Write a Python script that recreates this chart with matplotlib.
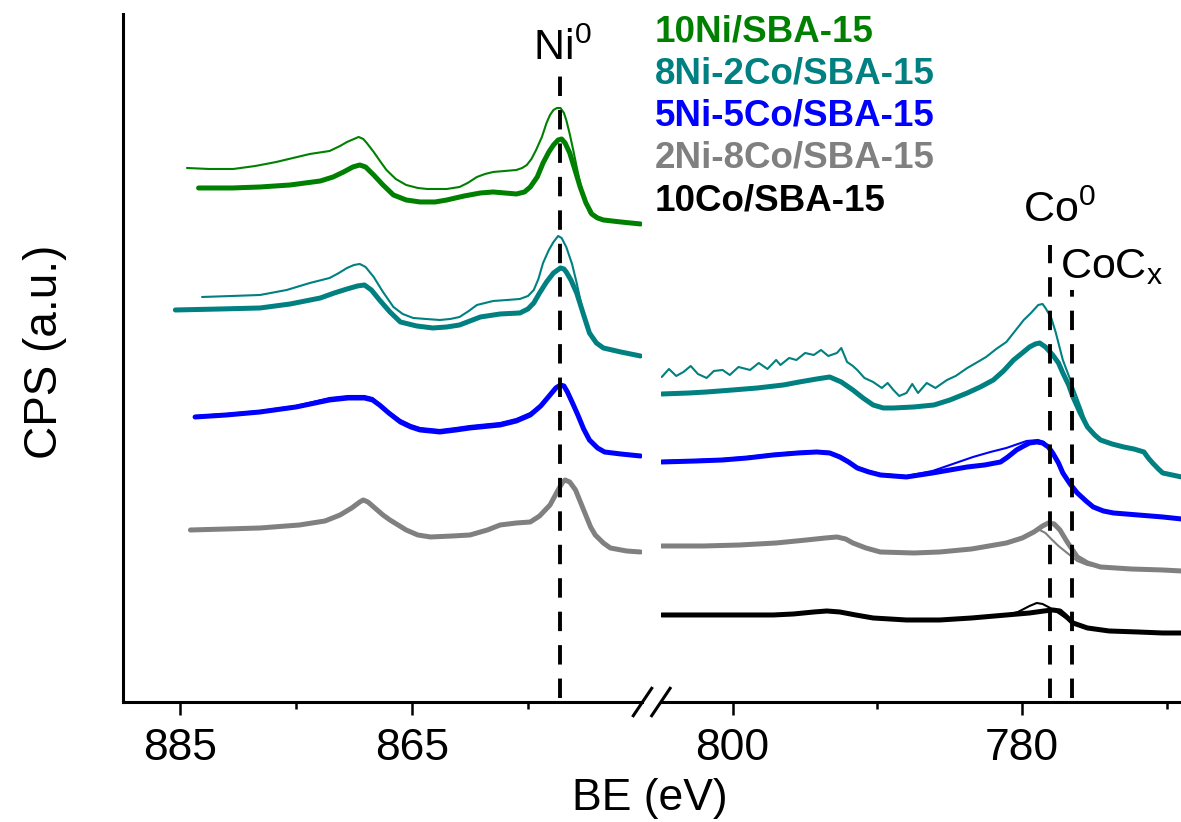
import numpy as np
import matplotlib.pyplot as plt
from matplotlib.lines import Line2D

plt.rcParams["font.family"] = "Liberation Sans"
plt.rcParams["mathtext.fontset"] = "custom"
plt.rcParams["mathtext.rm"] = "Liberation Sans"
plt.rcParams["mathtext.it"] = "Liberation Sans:italic"

# ---- Ni 2p region: (BE eV, CPS offset a.u.) ----
ni_10ni_a = [(884.4, 53.4), (882.5, 53.3), (880.4, 53.3), (878.5, 53.6), (876.7, 54.0),
             (873.8, 54.8), (872.1, 55.1), (871.2, 55.6), (870.6, 56.0), (870.0, 56.3),
             (869.6, 56.5), (869.2, 56.3), (868.9, 55.9), (868.3, 55.0), (867.7, 54.0),
             (867.2, 53.2), (866.4, 52.3), (865.5, 51.7), (864.5, 51.4), (863.7, 51.3),
             (862.0, 51.3), (860.9, 51.5), (860.2, 51.9), (859.4, 52.5), (858.7, 52.8),
             (858.0, 53.0), (857.0, 53.1), (856.0, 53.2), (855.5, 53.4), (855.1, 53.7),
             (854.7, 54.3), (854.3, 55.2), (853.8, 56.5), (853.4, 57.9), (853.1, 58.7),
             (852.8, 59.2), (852.5, 59.4), (852.2, 59.4), (851.9, 58.9), (851.7, 58.2),
             (851.4, 56.8), (851.1, 55.2), (850.8, 53.5), (850.5, 51.9), (850.1, 50.2),
             (849.7, 48.9), (849.2, 48.4), (848.5, 48.2), (847.0, 48.0), (845.3, 47.9)]
ni_10ni_b = [(883.4, 51.4), (880.5, 51.4), (878.1, 51.5), (875.5, 51.7), (872.9, 52.1),
             (871.8, 52.5), (870.9, 53.0), (870.1, 53.5), (869.5, 53.7), (869.0, 53.5),
             (868.3, 52.7), (867.5, 51.7), (866.6, 50.7), (865.5, 50.2), (864.3, 50.0),
             (863.0, 50.0), (862.0, 50.2), (860.5, 50.6), (859.1, 50.9), (858.0, 51.0),
             (857.0, 50.9), (856.0, 50.8), (855.3, 51.0), (854.8, 51.5), (854.2, 52.5),
             (853.7, 53.9), (853.2, 55.0), (852.8, 55.7), (852.4, 56.2), (852.1, 56.3),
             (851.8, 55.9), (851.4, 54.9), (851.0, 53.4), (850.5, 51.5), (850.0, 49.9),
             (849.5, 48.8), (849.0, 48.4), (848.5, 48.2), (847.0, 48.0), (845.3, 47.8)]
ni_8ni2co_a = [(883.1, 40.5), (880.5, 40.6), (878.1, 40.7), (875.8, 41.2), (873.8, 41.9),
               (872.1, 42.4), (871.3, 42.9), (870.6, 43.4), (870.0, 43.7), (869.5, 43.8),
               (869.0, 43.5), (868.3, 42.5), (867.5, 41.0), (866.6, 39.5), (865.8, 38.8),
               (864.9, 38.4), (863.8, 38.3), (862.6, 38.2), (861.7, 38.3), (860.9, 38.5),
               (860.1, 39.1), (859.4, 39.7), (858.0, 40.1), (856.8, 40.2), (855.7, 40.3),
               (855.0, 40.6), (854.5, 41.2), (854.1, 42.3), (853.7, 43.9), (853.2, 45.2),
               (852.8, 46.0), (852.4, 46.6), (852.1, 46.4), (851.7, 45.5), (851.2, 43.8),
               (850.8, 41.9), (850.3, 39.2), (849.7, 36.9), (849.1, 35.9), (848.5, 35.4),
               (847.0, 35.0), (845.3, 34.6)]
ni_8ni2co_b = [(885.4, 39.2), (881.5, 39.3), (878.1, 39.4), (875.5, 39.8), (872.9, 40.4),
               (871.7, 40.9), (870.6, 41.3), (869.7, 41.6), (869.1, 41.7), (868.5, 41.2),
               (867.8, 40.2), (866.9, 39.0), (866.0, 38.0), (864.6, 37.6), (863.2, 37.4),
               (862.0, 37.5), (860.9, 37.7), (860.0, 38.1), (859.1, 38.5), (857.4, 38.8),
               (855.7, 38.9), (855.0, 39.3), (854.5, 39.9), (854.0, 40.9), (853.4, 42.0),
               (852.8, 42.9), (852.2, 43.4), (851.9, 43.3), (851.7, 43.0), (851.3, 42.2),
               (850.8, 40.9), (850.2, 38.7), (849.7, 36.9), (849.1, 35.9), (848.5, 35.4),
               (847.0, 35.0), (845.3, 34.6)]
ni_5ni5co_a = [(883.7, 28.6), (881.0, 28.8), (878.1, 29.1), (875.0, 29.6), (872.1, 30.4),
               (870.5, 30.6), (869.1, 30.6), (868.4, 30.4), (867.8, 29.8), (867.0, 29.0),
               (866.0, 28.2), (865.1, 27.7), (864.3, 27.4), (862.6, 27.2), (861.2, 27.4),
               (860.0, 27.6), (857.4, 27.9), (856.0, 28.3), (854.8, 28.9), (853.9, 29.7),
               (853.1, 30.8), (852.6, 31.5), (852.2, 31.8), (851.9, 31.6), (851.6, 31.0),
               (851.2, 30.0), (850.7, 28.7), (850.2, 27.3), (849.7, 26.2), (849.0, 25.4),
               (848.4, 25.0), (847.0, 24.8), (845.3, 24.6)]
ni_5ni5co_b = [(883.7, 28.5), (881.0, 28.7), (878.1, 29.0), (875.0, 29.5), (872.1, 30.2),
               (870.5, 30.4), (869.1, 30.4), (868.4, 30.2), (867.8, 29.7), (867.0, 28.9),
               (866.0, 28.0), (865.1, 27.5), (864.3, 27.2), (862.6, 27.0), (861.2, 27.2),
               (860.0, 27.4), (857.4, 27.7), (856.0, 28.1), (854.8, 28.7), (853.9, 29.6),
               (853.1, 30.7), (852.6, 31.4), (852.2, 31.7), (851.9, 31.6), (851.6, 31.0),
               (851.2, 30.0), (850.7, 28.7), (850.2, 27.3), (849.7, 26.2), (849.0, 25.4),
               (848.4, 25.0), (847.0, 24.8), (845.3, 24.6)]
ni_2ni8co_a = [(884.1, 17.2), (881.0, 17.3), (878.1, 17.4), (874.7, 17.7), (872.5, 18.1),
               (871.2, 18.7), (870.2, 19.4), (869.5, 20.0), (869.2, 20.2), (868.8, 20.0),
               (868.2, 19.4), (867.5, 18.7), (866.9, 18.2), (865.5, 17.2), (864.5, 16.7),
               (863.4, 16.5), (861.5, 16.6), (860.0, 16.7), (858.5, 17.2), (857.4, 17.7),
               (856.0, 17.9), (854.8, 18.0), (854.0, 18.6), (853.1, 19.7), (852.4, 21.2),
               (852.0, 22.0), (851.8, 22.2), (851.4, 22.0), (850.9, 21.2), (850.2, 19.2),
               (849.6, 17.5), (849.2, 16.7), (848.5, 15.9), (847.9, 15.4), (846.5, 15.1),
               (845.3, 15.0)]

# ---- Co 2p region ----
co_8ni2co_a = [(804.9, 32.5), (804.4, 33.3), (803.9, 32.6), (803.4, 33.0), (802.9, 33.6),
               (802.4, 32.8), (801.8, 32.4), (801.3, 33.1), (800.7, 33.2), (800.2, 32.7),
               (799.6, 33.5), (798.8, 33.2), (798.2, 33.9), (797.6, 33.3), (797.0, 34.2),
               (796.7, 33.7), (796.1, 34.4), (795.6, 34.2), (795.0, 34.9), (794.4, 34.7),
               (793.9, 35.2), (793.4, 34.6), (792.8, 34.9), (792.5, 35.4), (792.1, 34.0),
               (791.7, 33.6), (791.4, 33.2), (790.9, 32.4), (790.3, 32.0), (789.7, 31.4),
               (789.3, 31.9), (788.9, 31.2), (788.5, 30.6), (788.0, 30.9), (787.6, 31.8),
               (787.2, 30.9), (786.6, 31.9), (786.0, 31.4), (785.2, 32.2), (784.6, 32.6),
               (783.8, 33.4), (783.2, 33.9), (782.5, 34.5), (781.8, 35.3), (781.1, 36.0),
               (780.5, 37.1), (779.9, 38.2), (779.4, 38.9), (778.9, 39.7), (778.6, 39.8),
               (778.4, 39.4), (778.0, 38.4), (777.7, 37.0), (777.2, 34.2), (776.5, 31.5),
               (775.9, 29.2), (775.5, 27.5), (774.6, 26.2), (773.0, 25.5), (771.6, 25.0),
               (771.0, 23.9), (770.3, 22.9), (769.0, 22.5)]
co_8ni2co_b = [(804.9, 30.8), (803.0, 30.9), (801.8, 31.0), (800.0, 31.2), (798.3, 31.4),
               (796.5, 31.7), (795.4, 32.0), (794.2, 32.3), (793.3, 32.5), (792.5, 32.0),
               (791.7, 31.2), (791.0, 30.4), (790.3, 29.7), (789.6, 29.4), (788.9, 29.4),
               (787.5, 29.5), (786.1, 29.7), (785.0, 30.2), (783.8, 30.9), (782.9, 31.5),
               (782.0, 32.2), (781.3, 33.1), (780.6, 34.2), (780.0, 34.9), (779.5, 35.5),
               (779.1, 35.8), (778.8, 35.9), (778.4, 35.5), (777.9, 34.7), (777.5, 33.9),
               (777.2, 32.9), (776.8, 31.7), (776.5, 30.5), (776.0, 28.9), (775.5, 27.5),
               (775.0, 26.7), (774.6, 26.2), (773.8, 25.8), (773.0, 25.5), (772.3, 25.3),
               (771.6, 25.0), (771.3, 24.4), (771.0, 23.9), (770.6, 23.3), (770.3, 22.9),
               (769.0, 22.5)]
co_5ni5co_a = [(804.9, 24.1), (802.5, 24.2), (800.7, 24.3), (799.0, 24.5), (797.2, 24.8),
               (795.5, 25.0), (794.2, 25.1), (793.3, 25.0), (792.6, 24.6), (792.0, 24.1),
               (791.4, 23.5), (790.6, 23.1), (789.8, 22.8), (788.0, 22.6), (786.2, 23.1),
               (784.8, 23.8), (783.4, 24.5), (782.2, 25.0), (781.1, 25.4), (780.3, 25.8),
               (779.7, 26.1), (778.9, 26.2), (778.5, 26.0), (778.2, 25.5), (777.9, 24.9),
               (777.5, 23.9), (777.2, 22.9), (776.7, 21.8), (776.2, 20.9), (775.6, 20.1),
               (775.1, 19.5), (774.4, 19.1), (773.7, 18.9), (772.0, 18.7), (770.3, 18.5),
               (769.0, 18.3)]
co_5ni5co_b = [(804.9, 24.0), (802.5, 24.1), (800.7, 24.2), (799.0, 24.4), (797.2, 24.7),
               (795.5, 24.9), (794.2, 25.0), (793.3, 24.9), (792.6, 24.5), (792.0, 24.0),
               (791.4, 23.4), (790.6, 23.0), (789.8, 22.7), (788.0, 22.5), (786.2, 22.9),
               (785.0, 23.2), (783.8, 23.5), (782.6, 23.7), (781.5, 24.0), (781.0, 24.5),
               (780.4, 25.2), (779.9, 25.6), (779.5, 25.9), (779.0, 26.0), (778.6, 25.9),
               (778.2, 25.5), (777.9, 24.9), (777.5, 23.9), (777.2, 22.9), (776.7, 21.8),
               (776.2, 20.9), (775.6, 20.1), (775.1, 19.5), (774.4, 19.1), (773.7, 18.9),
               (772.0, 18.7), (770.3, 18.5), (769.0, 18.3)]
co_2ni8co_a = [(804.9, 15.6), (802.0, 15.6), (799.5, 15.7), (797.0, 15.9), (794.9, 16.2),
               (793.6, 16.4), (792.8, 16.5), (792.2, 16.3), (791.7, 15.9), (790.8, 15.4),
               (789.8, 15.0), (787.5, 14.9), (785.7, 15.0), (783.5, 15.3), (781.1, 15.9),
               (780.2, 16.3), (779.5, 16.8), (779.0, 17.1), (778.8, 17.2), (778.4, 16.9),
               (778.0, 16.3), (777.5, 15.6), (776.9, 14.9), (776.2, 14.1), (775.5, 13.7),
               (774.6, 13.5), (772.5, 13.3), (770.3, 13.2), (769.0, 13.1)]
co_2ni8co_b = [(804.9, 15.6), (802.0, 15.6), (799.5, 15.7), (797.0, 15.9), (794.9, 16.2),
               (793.6, 16.4), (792.8, 16.5), (792.2, 16.3), (791.7, 15.9), (790.8, 15.4),
               (789.8, 15.0), (787.5, 14.9), (785.7, 15.0), (783.5, 15.3), (781.1, 15.9),
               (780.0, 16.4), (779.2, 17.0), (778.6, 17.6), (778.2, 17.9), (777.8, 17.8),
               (777.4, 17.2), (776.9, 16.0), (776.2, 14.5), (775.5, 13.9), (774.6, 13.5),
               (772.5, 13.3), (770.3, 13.2), (769.0, 13.1)]
co_10co_a = [(804.9, 8.7), (801.0, 8.7), (797.2, 8.7), (795.8, 8.8), (794.4, 9.0),
             (793.5, 9.1), (792.6, 9.0), (791.5, 8.7), (790.3, 8.4), (788.0, 8.2),
             (785.7, 8.2), (783.5, 8.4), (781.1, 8.7), (780.3, 9.0), (779.5, 9.6),
             (779.0, 9.9), (778.6, 9.8), (778.2, 9.5), (777.6, 9.0), (777.0, 8.4),
             (776.5, 7.9), (775.5, 7.4), (774.0, 7.1), (772.0, 7.0), (770.3, 6.9),
             (769.0, 6.9)]
co_10co_b = [(804.9, 8.7), (801.0, 8.7), (797.2, 8.7), (795.8, 8.8), (794.4, 9.0),
             (793.5, 9.1), (792.6, 9.0), (791.5, 8.7), (790.3, 8.4), (788.0, 8.2),
             (785.7, 8.2), (783.5, 8.4), (781.1, 8.7), (779.5, 8.9), (778.5, 9.1),
             (777.9, 9.2), (777.4, 9.1), (777.0, 8.6), (776.5, 7.9), (775.5, 7.4),
             (774.0, 7.1), (772.0, 7.0), (770.3, 6.9), (769.0, 6.9)]

samples = ["10Ni/SBA-15", "8Ni-2Co/SBA-15", "5Ni-5Co/SBA-15", "2Ni-8Co/SBA-15", "10Co/SBA-15"]
colors = ["#008000", "#008080", "#0000FF", "#808080", "#000000"]

ni0_be, co0_be, cocx_be = 852.24, 778.1, 776.6

THIN, THICK = 1.5, 3.6

fig = plt.figure(figsize=(11.81, 8.22), dpi=100)
axl = fig.add_axes([0.1039, 0.146, 0.4397, 0.837])
axr = fig.add_axes([0.5597, 0.146, 0.4403, 0.837])


def draw(ax, pts, color, lw):
    be, cps = np.array(pts).T
    ax.plot(be, cps, color=color, lw=lw, solid_joinstyle="round", solid_capstyle="round")


draw(axl, ni_10ni_a, colors[0], THIN)
draw(axl, ni_10ni_b, colors[0], THICK)
draw(axl, ni_8ni2co_a, colors[1], THIN)
draw(axl, ni_8ni2co_b, colors[1], THICK)
draw(axl, ni_5ni5co_a, colors[2], THIN)
draw(axl, ni_5ni5co_b, colors[2], THICK)
draw(axl, ni_2ni8co_a, colors[3], THICK)

draw(axr, co_8ni2co_a, colors[1], THIN)
draw(axr, co_8ni2co_b, colors[1], THICK)
draw(axr, co_5ni5co_a, colors[2], THIN)
draw(axr, co_5ni5co_b, colors[2], THICK)
draw(axr, co_2ni8co_a, colors[3], THIN)
draw(axr, co_2ni8co_b, colors[3], THICK)
draw(axr, co_10co_a, colors[4], THIN)
draw(axr, co_10co_b, colors[4], THICK)

# reference positions
dash = dict(color="black", lw=2.8, linestyle=(0, (5.0, 3.6)))
axl.plot([ni0_be, ni0_be], [0.4, 62.7], **dash)
axr.plot([co0_be, co0_be], [0.4, 45.7], **dash)
axr.plot([cocx_be, cocx_be], [0.4, 41.2], **dash)

axl.set_xlim(889.94, 845.17)
axr.set_xlim(804.95, 769.04)
for ax in (axl, axr):
    ax.set_ylim(0, 68.8)
    ax.set_yticks([])
    ax.spines["top"].set_visible(False)
    ax.spines["right"].set_visible(False)
    ax.spines["bottom"].set_linewidth(2.2)
    ax.spines["left"].set_linewidth(2.2)
    ax.tick_params(axis="x", which="major", direction="out", length=9.5, width=1.8,
                   labelsize=32, pad=9)
    ax.tick_params(axis="x", which="minor", direction="out", length=5, width=1.8)
axr.spines["left"].set_visible(False)

axl.set_xticks([885, 865])
axl.set_xticks([875, 855], minor=True)
axr.set_xticks([800, 780])
axr.set_xticks([790, 770], minor=True)

# axis break marks
for x0 in (633.3, 651.7):
    fig.add_artist(Line2D([x0 / 1181, (x0 + 18.4) / 1181],
                          [1 - 715.7 / 822, 1 - 688.3 / 822],
                          color="black", lw=2.2, transform=fig.transFigure))

fig.text(650 / 1181, 1 - 810 / 822, "BE (eV)", fontsize=32, ha="center", va="baseline")
fig.text(45 / 1181, 1 - 352 / 822, "CPS (a.u.)", fontsize=33, ha="center", va="center",
         rotation=90)

for i, (name, c) in enumerate(zip(samples, colors)):
    fig.text(655 / 1181, 1 - (41 + 42.3 * i) / 822, name, color=c, fontsize=26.5,
             fontweight="bold", ha="left", va="baseline")

fig.text(562 / 1181, 1 - 60 / 822, r"Ni$^\mathregular{0}$", fontsize=31, ha="center",
         va="baseline")
fig.text(1023 / 1181, 1 - 222 / 822, r"Co$^\mathregular{0}$", fontsize=31, ha="left",
         va="baseline")
fig.text(1060 / 1181, 1 - 278 / 822, r"CoC$_\mathregular{x}$", fontsize=31, ha="left",
         va="baseline")

fig.savefig("out.png", dpi=100)
